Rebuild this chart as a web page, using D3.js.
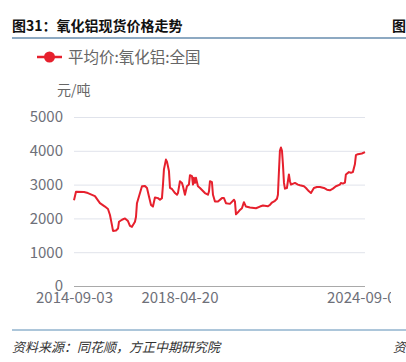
<!DOCTYPE html>
<html>
<head>
<meta charset="utf-8">
<script src="https://cdn.jsdelivr.net/npm/d3@7"></script>
<style>
  html, body { margin: 0; padding: 0; background: #fff; overflow: hidden; }
  svg { display: block; font-family: "Noto Sans CJK SC", "Noto Sans", sans-serif; }
</style>
</head>
<body>
<svg id="chart" width="406" height="362"></svg>
<script>
// alumina spot price, national average (yuan/ton)
const dates = [
  "2014-09-03","2014-09-28","2015-01-07","2015-02-25","2015-05-24","2015-07-26","2015-09-27","2015-11-04",
  "2015-11-29","2015-12-24","2016-01-06","2016-02-13","2016-03-09","2016-03-21","2016-04-28","2016-06-05",
  "2016-07-12","2016-08-06","2016-08-31","2016-10-08","2016-10-21","2016-11-02","2016-11-27","2017-01-04",
  "2017-02-11","2017-03-08","2017-04-02","2017-04-27","2017-05-22","2017-06-16","2017-07-24","2017-08-18",
  "2017-09-12","2017-09-25","2017-10-07","2017-11-01","2017-11-14","2017-12-09","2017-12-22","2018-01-16",
  "2018-02-23","2018-03-20","2018-04-01","2018-04-26","2018-05-21","2018-06-03","2018-06-28","2018-07-23",
  "2018-08-17","2018-08-30","2018-09-24","2018-10-07","2018-10-19","2018-11-01","2018-11-13","2018-12-08",
  "2019-01-03","2019-03-06","2019-04-13","2019-04-26","2019-05-08","2019-06-02","2019-06-15","2019-07-10",
  "2019-08-17","2019-10-06","2019-10-31","2019-11-25","2020-01-14","2020-03-05","2020-03-17","2020-03-30",
  "2020-04-24","2020-05-19","2020-06-13","2020-07-08","2020-08-02","2020-09-22","2020-12-06","2021-01-25",
  "2021-03-04","2021-05-06","2021-05-31","2021-06-25","2021-08-02","2021-08-27","2021-09-08","2021-09-21",
  "2021-10-03","2021-10-16","2021-10-29","2021-11-10","2021-11-23","2021-12-05","2021-12-30","2022-01-24",
  "2022-02-06","2022-02-19","2022-04-10","2022-05-17","2022-06-12","2022-08-01","2022-08-26","2022-10-03",
  "2022-10-28","2022-12-04","2023-01-11","2023-02-18","2023-04-09","2023-05-17","2023-06-23","2023-07-31",
  "2023-09-07","2023-10-27","2023-11-08","2023-12-03","2023-12-29","2024-01-10","2024-02-17","2024-03-13",
  "2024-04-07","2024-05-02","2024-05-15","2024-06-09","2024-07-29","2024-09-06"
];
const prices = [
  2540,2790,2780,2750,2660,2450,2350,2280,
  2100,1800,1630,1640,1700,1900,1960,2000,
  1920,1780,1750,1900,2050,2450,2650,2950,
  2960,2900,2650,2400,2350,2620,2600,2550,
  2600,3000,3450,3740,3680,3400,2900,2870,
  2750,2700,2750,3100,3050,2950,2700,2950,
  3000,3280,3250,3000,3200,3050,3200,2950,
  2900,2750,2700,2800,3100,3070,2700,2500,
  2500,2600,2600,2450,2430,2550,2500,2120,
  2180,2250,2300,2480,2350,2320,2300,2350,
  2380,2360,2400,2470,2520,2580,2700,3400,
  4000,4100,4000,3600,3050,2880,2900,3300,
  3100,3000,3050,3000,2980,2950,2900,2800,
  2750,2900,2930,2930,2900,2850,2830,2880,
  2950,3000,3050,3030,3060,3300,3370,3350,
  3370,3600,3870,3900,3920,3960
];
const yTicks = [0, 1000, 2000, 3000, 4000, 5000];
const xTickDates = ["2014-09-03", "2018-04-20", "2021-12-05", "2024-09-06"];
const xTickLabels = ["2014-09-03", "2018-04-20", "", "2024-09-06"];

const parse = d3.timeParse("%Y-%m-%d");
const series = dates.map((d, i) => ({ date: parse(d), value: prices[i] }));

const red = "#e6202d";
const svg = d3.select("#chart");

// title + rule
svg.append("text").attr("x", 12).attr("y", 31)
  .attr("font-size", 14).attr("font-weight", "bold").attr("fill", "#111")
  .text("图31：氧化铝现货价格走势");
svg.append("text").attr("x", 392).attr("y", 31)
  .attr("font-size", 14).attr("font-weight", "bold").attr("fill", "#111")
  .text("图");
svg.append("line").attr("x1", 12).attr("x2", 406).attr("y1", 38).attr("y2", 38)
  .attr("stroke", "#1d5585").attr("stroke-width", 1.2);

// legend
svg.append("line").attr("x1", 37).attr("x2", 62).attr("y1", 57).attr("y2", 57)
  .attr("stroke", red).attr("stroke-width", 2.5);
svg.append("circle").attr("cx", 49.5).attr("cy", 57).attr("r", 5.5).attr("fill", red);
svg.append("text").attr("x", 68).attr("y", 62.5)
  .attr("font-size", 15.5).attr("fill", "#666")
  .text("平均价:氧化铝:全国");

// unit
svg.append("text").attr("x", 57).attr("y", 95)
  .attr("font-size", 14).attr("fill", "#666").text("元/吨");

// scales
const x = d3.scaleTime()
  .domain([parse(xTickDates[0]), parse(xTickDates[xTickDates.length - 1])])
  .range([74, 365]);
const y = d3.scaleLinear().domain([0, 5000]).range([286, 117]);

// clip for the cut-off right side
svg.append("clipPath").attr("id", "clipR")
  .append("rect").attr("x", 0).attr("y", 0).attr("width", 391).attr("height", 362);

// grid + y labels
const yAxis = svg.append("g").attr("transform", "translate(74,0)")
  .call(d3.axisLeft(y).tickValues(yTicks).tickSize(-291).tickPadding(11).tickFormat(d3.format("d")));
yAxis.select(".domain").remove();
yAxis.selectAll(".tick line").attr("stroke", "#e0e3eb");
yAxis.selectAll(".tick").filter(d => d === 0).select("line").remove();
yAxis.selectAll(".tick text").attr("font-size", 15).attr("fill", "#6e7079")
  .attr("font-family", "'Noto Sans CJK SC', sans-serif");

// x axis
const xAxis = svg.append("g").attr("transform", "translate(0,286)")
  .attr("clip-path", "url(#clipR)")
  .call(d3.axisBottom(x)
    .tickValues(xTickDates.map(parse))
    .tickSize(6).tickSizeOuter(0).tickPadding(2)
    .tickFormat((d, i) => xTickLabels[i]));
xAxis.select(".domain").attr("stroke", "#555").attr("stroke-width", 1.2)
  .attr("d", "M74,0H365");
xAxis.selectAll(".tick line").attr("stroke", "#555").attr("y1", -6).attr("y2", 0);
xAxis.selectAll(".tick text").attr("font-size", 15).attr("fill", "#6e7079")
  .attr("font-family", "'Noto Sans CJK SC', sans-serif").attr("dy", "0.62em");

// price line
svg.append("path").datum(series)
  .attr("fill", "none").attr("stroke", red).attr("stroke-width", 2)
  .attr("stroke-linejoin", "round")
  .attr("d", d3.line().x(d => x(d.date)).y(d => y(d.value)));

// footer
svg.append("line").attr("x1", 12).attr("x2", 406).attr("y1", 330).attr("y2", 330)
  .attr("stroke", "#5a8db5").attr("stroke-width", 1);
svg.append("text").attr("x", 12).attr("y", 352)
  .attr("font-size", 13).attr("font-style", "italic").attr("fill", "#333")
  .text("资料来源：同花顺，方正中期研究院");
svg.append("text").attr("x", 393).attr("y", 352)
  .attr("font-size", 13).attr("font-style", "italic").attr("fill", "#333")
  .text("资");
</script>
</body>
</html>
